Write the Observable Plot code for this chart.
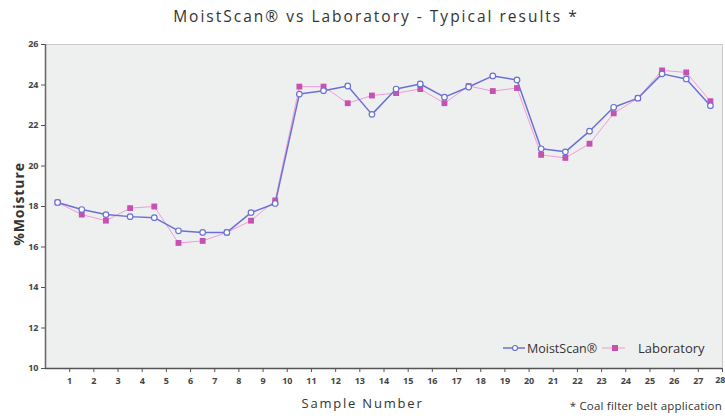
<!DOCTYPE html>
<html>
<head>
<meta charset="utf-8">
<script src="https://cdn.jsdelivr.net/npm/d3@7"></script>
<script src="https://cdn.jsdelivr.net/npm/@observablehq/plot@0.6"></script>
<style>
  html, body { margin: 0; padding: 0; background: #fff; }
  #wrap { position: relative; width: 725px; height: 418px; font-family: "Open Sans", sans-serif; color: #333; }
  #title { position: absolute; left: 0; width: 752px; top: 5px; text-align: center; font-size: 15.5px; letter-spacing: 2px; color: #333; }
  #xlabel { position: absolute; left: 0; width: 725px; top: 394px; text-align: center; font-size: 13px; letter-spacing: 1.8px; color: #333; }
  #caption { position: absolute; right: 3px; top: 398px; font-size: 11.5px; letter-spacing: 0.2px; color: #333; }
  #ylabel { position: absolute; left: 18px; top: 204px; transform: translate(-50%, -50%) rotate(-90deg); font-size: 14px; font-weight: bold; letter-spacing: 0.9px; white-space: nowrap; color: #333; }
  #legend { position: absolute; left: 500px; top: 338px; }
</style>
</head>
<body>
<div id="wrap">
  <div id="chart"></div>
  <div id="title">MoistScan® vs Laboratory - Typical results *</div>
  <div id="ylabel">%Moisture</div>
  <div id="xlabel">Sample Number</div>
  <div id="caption">* Coal filter belt application</div>
  <svg id="legend" width="220" height="22"></svg>
</div>
<script>
const samples = d3.range(1, 29);
const moistScan = [18.2, 17.85, 17.6, 17.5, 17.45, 16.8, 16.72, 16.72, 17.7, 18.15,
                   23.55, 23.72, 23.95, 22.55, 23.8, 24.05, 23.4, 23.9, 24.45, 24.25,
                   20.85, 20.7, 21.72, 22.9, 23.35, 24.55, 24.3, 22.98];
const laboratory = [18.2, 17.6, 17.3, 17.92, 18.0, 16.2, 16.3, 16.72, 17.3, 18.3,
                    23.92, 23.92, 23.1, 23.48, 23.6, 23.8, 23.1, 23.95, 23.7, 23.85,
                    20.55, 20.4, 21.1, 22.6, 23.35, 24.72, 24.62, 23.2];
const xTicks = d3.range(1, 29);
const yTicks = [10, 12, 14, 16, 18, 20, 22, 24, 26];
const lastTick = xTicks[xTicks.length - 1];

const blue = "#6a70d6";
const pinkLine = "#f29ad9";
const magenta = "#c552b2";

const ms = samples.map((s, i) => ({x: s - 0.5, y: moistScan[i]}));
const lab = samples.map((s, i) => ({x: s - 0.5, y: laboratory[i]}));

const chart = Plot.plot({
  width: 725,
  height: 418,
  marginLeft: 45,
  marginRight: 3,
  marginTop: 44,
  marginBottom: 50,
  style: {fontFamily: "Open Sans, sans-serif", fontSize: "9px", fontWeight: "bold", color: "#444", background: "transparent"},
  x: {domain: [0, 28], ticks: xTicks, label: null},
  y: {domain: [10, 26], ticks: yTicks, label: null},
  marks: [
    Plot.frame({fill: "#eef0ef", stroke: "#c9c9c9"}),
    Plot.ruleY([10], {stroke: "#555", strokeWidth: 1.5}),
    Plot.ruleX([0], {stroke: "#666", strokeWidth: 1.5}),
    Plot.axisX({ticks: xTicks, tickFormat: d => d === lastTick ? "" : d, tickSize: 4, tickPadding: 5, stroke: "#555", fill: "#444", label: null}),
    Plot.text([lastTick], {x: d => d, frameAnchor: "bottom", dy: 14, textAnchor: "end", dx: 3, text: d => String(d), fill: "#444", fontWeight: "bold"}),
    Plot.axisY({ticks: yTicks, tickSize: 4, tickPadding: 3, stroke: "#555", fill: "#444", label: null}),
    Plot.line(lab, {x: "x", y: "y", stroke: pinkLine, strokeWidth: 1}),
    Plot.line(ms, {x: "x", y: "y", stroke: blue, strokeWidth: 1.5}),
    Plot.dot(lab, {x: "x", y: "y", symbol: "square", r: 3.3, fill: magenta, stroke: "none"}),
    Plot.dot(ms, {x: "x", y: "y", symbol: "circle", r: 2.8, fill: "white", stroke: blue, strokeWidth: 1.2})
  ]
});
document.getElementById("chart").appendChild(chart);

// legend
const lg = d3.select("#legend");
lg.append("line").attr("x1", 3).attr("x2", 25).attr("y1", 10).attr("y2", 10).attr("stroke", blue).attr("stroke-width", 1.5);
lg.append("circle").attr("cx", 15).attr("cy", 10).attr("r", 2.5).attr("fill", "white").attr("stroke", blue).attr("stroke-width", 1.2);
lg.append("text").attr("x", 27).attr("y", 14.5).text("MoistScan®").attr("font-family", "Open Sans, sans-serif").attr("font-size", 12.5).attr("fill", "#333");
lg.append("line").attr("x1", 102).attr("x2", 125).attr("y1", 10).attr("y2", 10).attr("stroke", pinkLine).attr("stroke-width", 1);
lg.append("rect").attr("x", 112).attr("y", 7).attr("width", 6).attr("height", 6).attr("fill", magenta);
lg.append("text").attr("x", 138).attr("y", 14.5).text("Laboratory").attr("font-family", "Open Sans, sans-serif").attr("font-size", 13).attr("fill", "#333");
</script>
</body>
</html>
